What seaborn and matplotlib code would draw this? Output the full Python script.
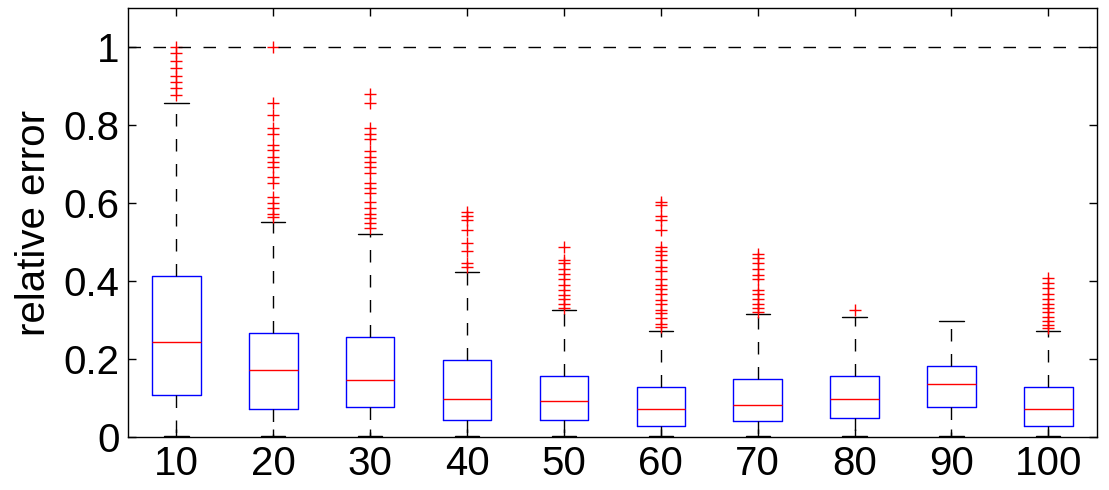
import matplotlib
matplotlib.use("Agg")
import matplotlib.pyplot as plt
import seaborn as sns

# number of samples (x categories)
labels = ["10", "20", "30", "40", "50", "60", "70", "80", "90", "100"]

# box statistics
q1 = [0.108, 0.072, 0.077, 0.045, 0.045, 0.029, 0.040, 0.050, 0.077, 0.029]
med = [0.245, 0.172, 0.146, 0.098, 0.093, 0.072, 0.082, 0.098, 0.135, 0.072]
q3 = [0.414, 0.267, 0.256, 0.198, 0.156, 0.129, 0.150, 0.156, 0.182, 0.129]
whislo = [0.004, 0.004, 0.004, 0.004, 0.004, 0.004, 0.004, 0.004, 0.004, 0.004]
whishi = [0.857, 0.552, 0.520, 0.424, 0.326, 0.272, 0.315, 0.309, 0.298, 0.272]

out10 = [1.0, 0.984, 0.963, 0.945, 0.926, 0.910, 0.894, 0.877]
out20 = [1.0, 0.857, 0.826, 0.793, 0.778, 0.750, 0.736, 0.719, 0.704, 0.693,
         0.667, 0.652, 0.616, 0.599, 0.586, 0.573, 0.563]
out30 = [0.879, 0.857, 0.793, 0.778, 0.763, 0.734, 0.719, 0.704, 0.693, 0.678,
         0.652, 0.639, 0.625, 0.603, 0.586, 0.573, 0.561, 0.550, 0.535]
out40 = [0.567, 0.556, 0.531, 0.498, 0.478, 0.445, 0.437, 0.578]
out50 = [0.488, 0.455, 0.445, 0.432, 0.418, 0.404, 0.390, 0.377, 0.364, 0.353,
         0.341, 0.330]
out60 = [0.603, 0.595, 0.567, 0.556, 0.531, 0.488, 0.478, 0.467, 0.455, 0.437,
         0.426, 0.404, 0.390, 0.379, 0.368, 0.351, 0.341, 0.327, 0.317, 0.304,
         0.291, 0.283]
out70 = [0.469, 0.458, 0.445, 0.432, 0.415, 0.404, 0.377, 0.367, 0.353, 0.341,
         0.330, 0.321]
out80 = [0.326]
out90 = []
out100 = [0.407, 0.394, 0.381, 0.368, 0.353, 0.341, 0.330, 0.320, 0.309, 0.298,
          0.287, 0.280]
outliers = [out10, out20, out30, out40, out50, out60, out70, out80, out90, out100]

yticks = [0, 0.2, 0.4, 0.6, 0.8, 1]
ytick_labels = ["0", "0.2", "0.4", "0.6", "0.8", "1"]

sns.set_style("ticks")
plt.rcParams["font.family"] = ["Liberation Sans", "DejaVu Sans"]
plt.rcParams["text.color"] = "black"
plt.rcParams["axes.labelcolor"] = "black"
plt.rcParams["xtick.color"] = "black"
plt.rcParams["ytick.color"] = "black"

stats = []
for i in range(len(labels)):
    stats.append({"label": labels[i], "q1": q1[i], "med": med[i], "q3": q3[i],
                  "whislo": whislo[i], "whishi": whishi[i], "fliers": outliers[i]})

fig = plt.figure(figsize=(11.09, 4.9), dpi=100)
ax = fig.add_axes([0.1154, 0.108, 0.8736, 0.8757])

ax.bxp(stats, positions=range(1, len(labels) + 1), widths=0.5,
       boxprops=dict(color="#0000ff", linewidth=1.0),
       medianprops=dict(color="#ff0000", linewidth=1.0),
       whiskerprops=dict(color="black", linewidth=1.0, linestyle=(0, (9, 9))),
       capprops=dict(color="black", linewidth=1.0),
       flierprops=dict(marker="+", markeredgecolor="#ff0000", markersize=9,
                       markeredgewidth=1.0, linestyle="none"))

ax.axhline(1, color="black", linewidth=1.0, linestyle=(0, (9, 9)))

ax.set_xlim(0.5, 10.5)
ax.set_ylim(0, 1.1)
ax.set_yticks(yticks)
ax.set_yticklabels(ytick_labels)
ax.set_ylabel("relative error", fontsize=29, labelpad=8)
ax.tick_params(axis="both", direction="in", length=6, width=1, labelsize=29,
               top=True, right=True, pad=6, colors="black")
for s in ax.spines.values():
    s.set_linewidth(1.0)
    s.set_color("black")

fig.savefig("out.png", dpi=100)
